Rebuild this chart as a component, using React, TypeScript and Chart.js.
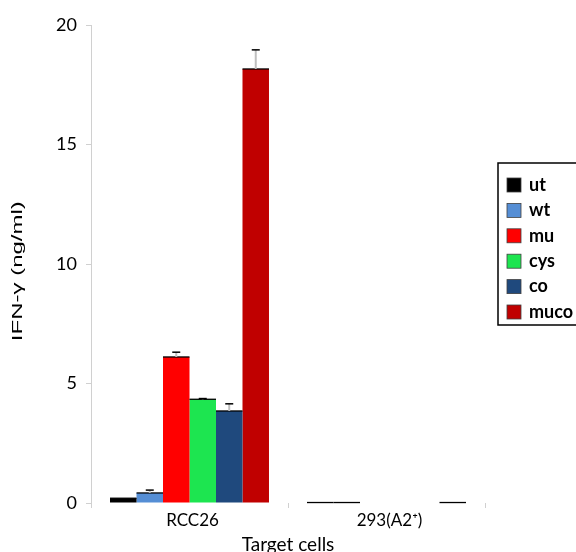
import React, { useEffect, useRef } from "react";
import { Chart, registerables } from "chart.js";

Chart.register(...registerables);

// Target cell lines on the x axis
const categories = ["RCC26", "293(A2\u207A)"];

// TCR variants
const seriesNames = ["ut", "wt", "mu", "cys", "co", "muco"];

// IFN-γ release (ng/ml) per variant, [RCC26, 293(A2+)]
const utValues = [0.2, 0.02];
const wtValues = [0.42, 0.02];
const muValues = [6.11, 0];
const cysValues = [4.34, 0];
const coValues = [3.85, 0];
const mucoValues = [18.16, 0.02];

// Upper error (ng/ml)
const utErrors = [0, 0];
const wtErrors = [0.12, 0];
const muErrors = [0.2, 0];
const cysErrors = [0.03, 0];
const coErrors = [0.3, 0];
const mucoErrors = [0.8, 0];

const yTicks = [0, 5, 10, 15, 20];
const yTitle = "IFN-\u03B3 (ng/ml)";
const xTitle = "Target cells";

const seriesValues = [utValues, wtValues, muValues, cysValues, coValues, mucoValues];
const seriesErrors = [utErrors, wtErrors, muErrors, cysErrors, coErrors, mucoErrors];
const seriesColors = ["#000000", "#558ED5", "#FF0000", "#1DE550", "#1F497D", "#C00000"];

const FONT = "Lato, 'Open Sans', sans-serif";

// Black outline on each bar top, then the upward error whiskers
const barDecorPlugin = {
  id: "barDecor",
  afterDatasetsDraw(chart: any) {
    const ctx = chart.ctx;
    const y = chart.scales.y;
    ctx.save();
    chart.data.datasets.forEach((ds: any, i: number) => {
      const meta = chart.getDatasetMeta(i);
      meta.data.forEach((bar: any, j: number) => {
        if (ds.data[j] > 0) {
          ctx.strokeStyle = "#000000";
          ctx.lineWidth = 1.3;
          ctx.beginPath();
          ctx.moveTo(bar.x - bar.width / 2, bar.y);
          ctx.lineTo(bar.x + bar.width / 2, bar.y);
          ctx.stroke();
        }
        const err = seriesErrors[i][j];
        if (!err) return;
        const top = y.getPixelForValue(ds.data[j] + err);
        ctx.strokeStyle = "#BFBFBF";
        ctx.lineWidth = 2;
        ctx.beginPath();
        ctx.moveTo(bar.x, bar.y);
        ctx.lineTo(bar.x, top);
        ctx.stroke();
        ctx.strokeStyle = "#000000";
        ctx.lineWidth = 1.5;
        ctx.beginPath();
        ctx.moveTo(bar.x - 4, top);
        ctx.lineTo(bar.x + 4, top);
        ctx.stroke();
      });
    });
    ctx.restore();
  },
};

// Rotated y-axis title, stretched along its length
const yTitlePlugin = {
  id: "yTitle",
  afterDraw(chart: any) {
    const ctx = chart.ctx;
    const area = chart.chartArea;
    ctx.save();
    ctx.translate(18, area.top + (area.bottom - area.top) * 0.515);
    ctx.rotate(-Math.PI / 2);
    ctx.scale(1.6, 1);
    ctx.font = "15px 'Liberation Sans', Arial, sans-serif";
    ctx.fillStyle = "#000000";
    ctx.textAlign = "center";
    ctx.textBaseline = "middle";
    ctx.fillText(yTitle, 0, 0);
    ctx.restore();
  },
};

const boxedLegendPlugin = {
  id: "boxedLegend",
  afterDraw(chart: any) {
    const ctx = chart.ctx;
    const left = 498;
    const top = 163;
    ctx.save();
    ctx.strokeStyle = "#000000";
    ctx.lineWidth = 1.5;
    ctx.strokeRect(left, top, 120, 162);
    ctx.font = `bold 18px ${FONT}`;
    ctx.textBaseline = "middle";
    ctx.textAlign = "left";
    seriesNames.forEach((name, k) => {
      const cy = top + 22 + k * 25.4;
      ctx.fillStyle = seriesColors[k];
      ctx.fillRect(507, cy - 7, 14, 14);
      ctx.strokeStyle = "#404040";
      ctx.lineWidth = 0.8;
      ctx.strokeRect(507, cy - 7, 14, 14);
      ctx.fillStyle = "#000000";
      ctx.fillText(name, 529, cy);
    });
    ctx.restore();
  },
};

export default function App() {
  const canvasRef = useRef<HTMLCanvasElement | null>(null);

  useEffect(() => {
    const canvas = canvasRef.current;
    if (!canvas) return;
    const chart = new Chart(canvas, {
      type: "bar",
      data: {
        labels: categories,
        datasets: seriesNames.map((name, i) => ({
          label: name,
          data: seriesValues[i],
          backgroundColor: seriesColors[i],
          borderWidth: 0,
          categoryPercentage: 0.807,
          barPercentage: 1,
        })),
      },
      options: {
        responsive: false,
        animation: false,
        layout: { padding: { left: 0, right: 91, top: 25, bottom: 0 } },
        plugins: {
          legend: { display: false },
          tooltip: { enabled: false },
        },
        scales: {
          x: {
            grid: {
              display: true,
              offset: true,
              drawOnChartArea: false,
              tickLength: 5,
              color: "#D0D0D0",
            },
            border: { display: false },
            ticks: {
              color: "#000000",
              font: { family: FONT, size: 17 },
              padding: 2,
              labelOffset: 3,
            },
            title: {
              display: true,
              text: xTitle,
              color: "#000000",
              font: { family: FONT, size: 19 },
              padding: { top: 0, bottom: 4 },
            },
            afterFit(scale: any) {
              scale.height = 57;
            },
          },
          y: {
            min: 0,
            max: 20,
            afterBuildTicks(scale: any) {
              scale.ticks = yTicks.map((v) => ({ value: v }));
            },
            grid: {
              display: true,
              drawOnChartArea: false,
              tickLength: 5,
              color: "#D0D0D0",
            },
            border: { display: true, color: "#D0D0D0", width: 1 },
            ticks: {
              color: "#000000",
              font: { family: FONT, size: 18 },
              padding: 9,
            },
            title: { display: false },
            afterFit(scale: any) {
              scale.width = 91;
            },
          },
        },
      },
      plugins: [barDecorPlugin, yTitlePlugin, boxedLegendPlugin],
    });
    return () => chart.destroy();
  }, []);

  return (
    <div
      style={{
        position: "fixed",
        left: 0,
        top: 0,
        width: 576,
        height: 552,
        overflow: "hidden",
        background: "#ffffff",
      }}
    >
      <canvas ref={canvasRef} width={576} height={560} style={{ display: "block" }} />
    </div>
  );
}
